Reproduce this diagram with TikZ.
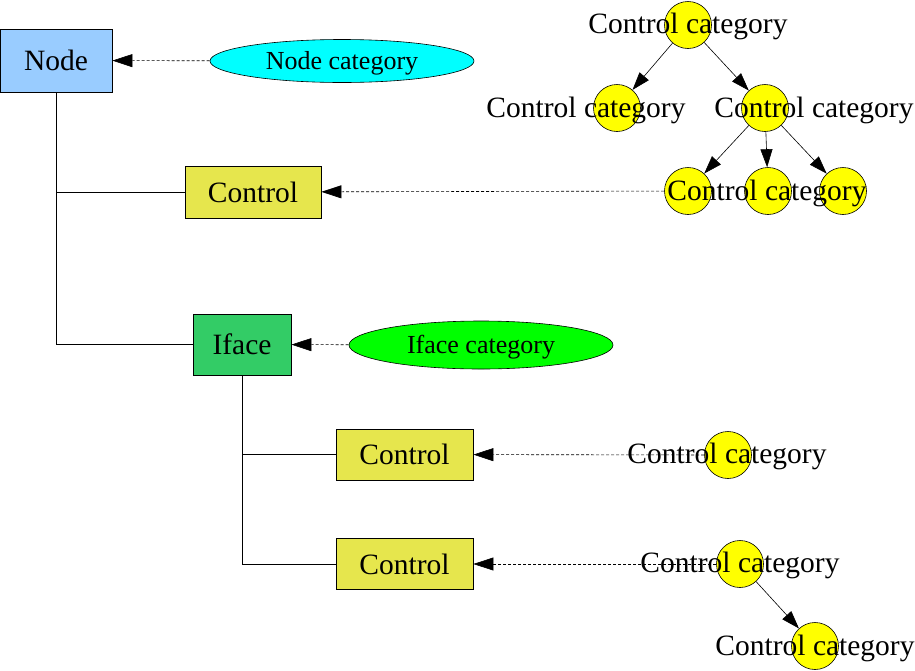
\documentclass[tikz,border=0pt]{standalone}
\usepackage{fontspec}
\setmainfont{Liberation Serif}
\usetikzlibrary{arrows.meta}
\usetikzlibrary{shapes}
\usetikzlibrary{positioning}

\definecolor{nodeblue}{HTML}{99CCFF}
\definecolor{ctrlyellow}{HTML}{E6E64D}
\definecolor{ifacegreen}{HTML}{33CC66}
\definecolor{catcyan}{HTML}{00FFFF}
\definecolor{catgreen}{HTML}{00FF00}
\definecolor{catyellow}{HTML}{FFFF00}

\tikzset{
  box/.style={draw,line width=0.8pt,inner sep=0pt,font=\fontsize{29.5}{31}\selectfont},
  cat/.style={draw,ellipse,line width=0.6pt,inner sep=0pt,minimum width=264pt,text height=17pt,text depth=0pt,font=\fontsize{26}{28}\selectfont},
  ctl/.style={draw,circle,fill=catyellow,line width=0.6pt,minimum size=47pt,inner sep=0pt},
  lbl/.style={anchor=base,inner sep=0pt,font=\fontsize{29.5}{31}\selectfont},
  dasharrow/.style={dash pattern=on 3pt off 2pt,line width=0.6pt,-{Triangle[length=20pt,width=13pt]}},
  treearrow/.style={line width=0.6pt,-{Triangle[length=18pt,width=12pt]}}
}

\begin{document}
\begin{tikzpicture}[x=1pt,y=-1pt]
\useasboundingbox (0,0) rectangle (915,670);
\draw (56,60.5) node[box,fill=nodeblue,minimum width=112pt,minimum height=63pt](node){Node};
\draw (253,192) node[box,fill=ctrlyellow,minimum width=136pt,minimum height=52pt](ctrla){Control};
\draw (242,344.5) node[box,fill=ifacegreen,minimum width=98pt,minimum height=61pt](iface){Iface};
\draw (404.5,454.5) node[box,fill=ctrlyellow,minimum width=137pt,minimum height=51pt](ctrlb){Control};
\draw (404.5,564) node[box,fill=ctrlyellow,minimum width=137pt,minimum height=51pt](ctrlc){Control};
\draw (342,61) node[cat,fill=catcyan,minimum height=43pt](nodecat){Node category};
\draw (481,345) node[cat,fill=catgreen,minimum height=48pt](ifacecat){Iface category};
\draw (node.south) |- (iface.west);
\draw (node.south) |- (ctrla.west);
\draw (iface.south) |- (ctrlc.west);
\draw (iface.south) |- (ctrlb.west);
\draw[dasharrow] (nodecat) -- (node);
\draw[dasharrow] (ifacecat) -- (iface);
\draw (688,25) node[ctl](ctlroot){};
\draw (617,108) node[ctl](ctll){};
\draw (765,108) node[ctl](ctlr){};
\draw (688,191) node[ctl](ctlra){};
\draw (768,191) node[ctl](ctlrb){};
\draw (843,191) node[ctl](ctlrc){};
\draw (728,455) node[ctl](ctlb){};
\draw (740,564) node[ctl](ctlc){};
\draw (815,646) node[ctl](ctlcc){};
\draw[treearrow] (ctlroot) -- (ctll);
\draw[treearrow] (ctlroot) -- (ctlr);
\draw[treearrow] (ctlr) -- (ctlra);
\draw[treearrow] (ctlr) -- (ctlrb);
\draw[treearrow] (ctlr) -- (ctlrc);
\draw[treearrow] (ctlc) -- (ctlcc);
\draw[dasharrow] (ctlra) -- (ctrla);
\draw[dasharrow] (ctlb) -- (ctrlb);
\draw[dasharrow] (ctlc) -- (ctrlc);
\draw (688,33) node[lbl](lblroot){Control category};
\draw (586,117) node[lbl](lbll){Control category};
\draw (814,117) node[lbl](lblr){Control category};
\draw (767,200) node[lbl](lblrb){Control category};
\draw (727,463) node[lbl](lblb){Control category};
\draw (740,572) node[lbl](lblc){Control category};
\draw (815,655) node[lbl](lblcc){Control category};
\end{tikzpicture}
\end{document}
